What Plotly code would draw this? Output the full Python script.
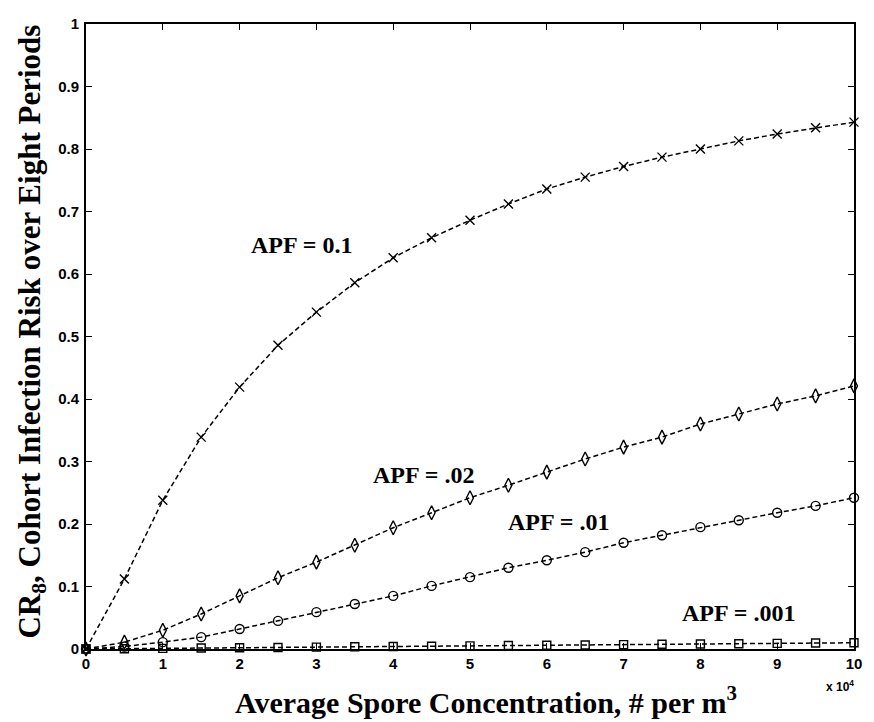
import plotly.graph_objects as go

x_vals = [0, 5000, 10000, 15000, 20000, 25000, 30000, 35000, 40000, 45000, 50000,
          55000, 60000, 65000, 70000, 75000, 80000, 85000, 90000, 95000, 100000]
apf_01 = [0, 0.112, 0.238, 0.339, 0.419, 0.486, 0.539, 0.586, 0.626, 0.658, 0.686,
          0.712, 0.736, 0.755, 0.772, 0.787, 0.800, 0.813, 0.824, 0.834, 0.843]
apf_002 = [0, 0.011, 0.030, 0.056, 0.085, 0.114, 0.139, 0.166, 0.194, 0.218, 0.242,
           0.262, 0.283, 0.304, 0.323, 0.339, 0.360, 0.376, 0.392, 0.405, 0.421]
apf_001 = [0, 0.004, 0.011, 0.019, 0.032, 0.045, 0.059, 0.072, 0.085, 0.101, 0.115,
           0.130, 0.142, 0.155, 0.170, 0.182, 0.195, 0.206, 0.218, 0.229, 0.242]
apf_0001 = [0, 0.0005, 0.001, 0.0015, 0.002, 0.0025, 0.003, 0.0035, 0.004, 0.0045, 0.005,
            0.0055, 0.006, 0.0065, 0.007, 0.0075, 0.008, 0.0085, 0.009, 0.0095, 0.010]

x_ticks = [0, 10000, 20000, 30000, 40000, 50000, 60000, 70000, 80000, 90000, 100000]
x_tick_text = ["0", "1", "2", "3", "4", "5", "6", "7", "8", "9", "10"]
y_ticks = [0, 0.1, 0.2, 0.3, 0.4, 0.5, 0.6, 0.7, 0.8, 0.9, 1]
y_tick_text = ["0", "0.1", "0.2", "0.3", "0.4", "0.5", "0.6", "0.7", "0.8", "0.9", "1"]

series = [
    ("APF = 0.1", apf_01, "x-thin-open", 9),
    ("APF = .02", apf_002, "diamond-tall-open", 10),
    ("APF = .01", apf_001, "circle-open", 9),
    ("APF = .001", apf_0001, "square-open", 8),
]

fig = go.Figure()
for name, ys, sym, sz in series:
    fig.add_trace(go.Scatter(
        x=x_vals, y=ys, mode="lines+markers", name=name,
        line=dict(color="black", width=1.5, dash="5px,3px"),
        marker=dict(symbol=sym, size=sz, color="black",
                    line=dict(color="black", width=1.4)),
        cliponaxis=False, showlegend=False,
    ))

tick_font = dict(family="Liberation Sans, Arial, sans-serif", size=15, color="black", weight="bold")
serif = "Liberation Serif, Times New Roman, serif"

fig.update_xaxes(
    range=[0, 100000], tickvals=x_ticks, ticktext=x_tick_text,
    ticks="inside", ticklen=6, tickcolor="black", tickwidth=1.3,
    showline=True, linecolor="black", linewidth=2, mirror="allticks",
    showgrid=False, zeroline=False, tickfont=tick_font,
)
fig.update_yaxes(
    range=[0, 1], tickvals=y_ticks, ticktext=y_tick_text,
    ticks="inside", ticklen=6, tickcolor="black", tickwidth=1.3,
    showline=True, linecolor="black", linewidth=2, mirror="allticks",
    showgrid=False, zeroline=False, tickfont=tick_font,
    ticklabelstandoff=2,
)

# axis titles
fig.add_annotation(
    x=(490 - 86) / 776, y=-(700 - 649) / 625, xref="paper", yref="paper",
    text="<b>Average Spore Concentration, # per m<sup>3</sup></b>", showarrow=False,
    xanchor="center", yanchor="middle",
    font=dict(family=serif, size=30, color="black"))
fig.add_annotation(
    x=-(86 - 31) / 776, y=(649 - 332) / 625, xref="paper", yref="paper",
    text="<b>CR<sub>8</sub>, Cohort Infection Risk over Eight Periods</b>", showarrow=False,
    textangle=-90, xanchor="center", yanchor="middle",
    font=dict(family=serif, size=31, color="black"))

ann_font = dict(family=serif, size=24, color="black")
labels = [
    ("<b>APF = 0.1</b>", 28100, 0.646),
    ("<b>APF = .02</b>", 44000, 0.278),
    ("<b>APF = .01</b>", 61500, 0.203),
    ("<b>APF = .001</b>", 85000, 0.058),
]
for txt, ax_, ay_ in labels:
    fig.add_annotation(x=ax_, y=ay_, text=txt, showarrow=False, font=ann_font,
                       xref="x", yref="y")

fig.add_annotation(x=(848 - 86) / 776, y=-(686 - 649) / 625, xref="paper", yref="paper",
                   text="<b>x 10<sup>4</sup></b>", showarrow=False,
                   xanchor="center", yanchor="middle",
                   font=dict(family="Liberation Sans, Arial, sans-serif", size=12, color="black"))

fig.update_layout(
    width=874, height=722,
    margin=dict(l=86, r=12, t=24, b=73),
    paper_bgcolor="white", plot_bgcolor="white",
)

fig.write_html("out.html")
